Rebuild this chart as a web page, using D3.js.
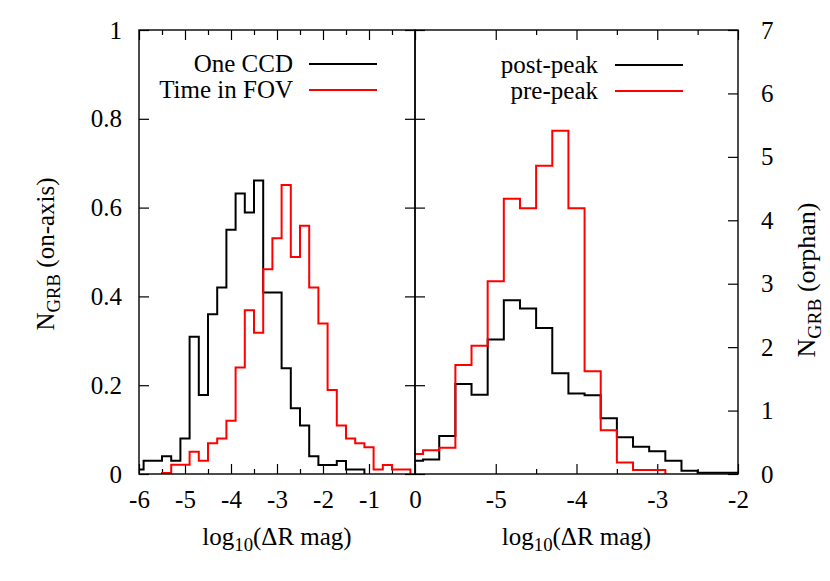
<!DOCTYPE html>
<html><head><meta charset="utf-8">
<script src="https://cdn.jsdelivr.net/npm/d3@7"></script>
<style>html,body{margin:0;padding:0;background:#fff;}</style>
</head><body>
<svg id="chart" width="830" height="581"></svg>
<script>
// ---------- data ----------
// Left panel (on-axis), bin centres in log10(ΔR mag), bin width 0.2
const oneCCDCenters = [-6.0,-5.8,-5.6,-5.4,-5.2,-5.0,-4.8,-4.6,-4.4,-4.2,-4.0,-3.8,-3.6,-3.4,-3.2,-3.0,-2.8,-2.6,-2.4,-2.2,-2.0,-1.8,-1.6,-1.4,-1.2];
const oneCCDValues  = [0.010,0.030,0.030,0.040,0.030,0.080,0.309,0.178,0.360,0.420,0.550,0.632,0.589,0.661,0.409,0.409,0.238,0.148,0.109,0.040,0.020,0.020,0.029,0.010,0.010];
const fovCenters = [-5.4,-5.2,-5.0,-4.8,-4.6,-4.4,-4.2,-4.0,-3.8,-3.6,-3.4,-3.2,-3.0,-2.8,-2.6,-2.4,-2.2,-2.0,-1.8,-1.6,-1.4,-1.2,-1.0,-0.8,-0.6,-0.4,-0.2];
const fovValues  = [0.002,0.021,0.021,0.050,0.030,0.069,0.080,0.120,0.240,0.369,0.318,0.461,0.531,0.651,0.489,0.559,0.420,0.339,0.189,0.109,0.080,0.069,0.060,0.010,0.020,0.010,0.010];
// Right panel (orphan)
const postCenters = [-6.0,-5.8,-5.6,-5.4,-5.2,-5.0,-4.8,-4.6,-4.4,-4.2,-4.0,-3.8,-3.6,-3.4,-3.2,-3.0,-2.8,-2.6,-2.4,-2.2,-2.0];
const postValues  = [0.21,0.23,0.60,1.42,1.25,2.12,2.74,2.61,2.30,1.59,1.27,1.24,0.88,0.58,0.43,0.36,0.21,0.05,0.02,0.02,0.02];
const preCenters = [-6.0,-5.8,-5.6,-5.4,-5.2,-5.0,-4.8,-4.6,-4.4,-4.2,-4.0,-3.8,-3.6,-3.4,-3.2,-3.0];
const preValues  = [0.315,0.375,0.415,1.72,2.02,3.04,4.34,4.19,4.86,5.41,4.19,1.62,0.69,0.18,0.063,0.063];
const binWidth = 0.2;

const leftXTicks = [-6,-5,-4,-3,-2,-1,0];
const leftXMinor = [-5.5,-4.5,-3.5,-2.5,-1.5,-0.5];
const rightXTicks = [-5,-4,-3,-2];
const rightXMinor = [-4.5,-3.5,-2.5];
const leftYTicks = [0,0.2,0.4,0.6,0.8,1];
const leftYLabels = ["0","0.2","0.4","0.6","0.8","1"];
const rightYTicks = [0,1,2,3,4,5,6,7];

const leftLegend = ["One CCD","Time in FOV"];
const rightLegend = ["post-peak","pre-peak"];
const colors = ["#000000","#ff0000"];

// ---------- layout ----------
const FONT = '"Liberation Serif","Times New Roman",Times,serif';
const FS = 25;
const yTop = 30, yBot = 474, xl0 = 139, xmid = 415, xr1 = 738;

const svg = d3.select("#chart");
const xL = d3.scaleLinear().domain([-6,0]).range([xl0,xmid]);
const xR = d3.scaleLinear().domain([-6,-2]).range([xmid,xr1]);
const yL = d3.scaleLinear().domain([0,1]).range([yBot,yTop]);
const yR = d3.scaleLinear().domain([0,7]).range([yBot,yTop]);

const defs = svg.append("defs");
defs.append("clipPath").attr("id","clipL").append("rect").attr("x",xl0).attr("y",yTop).attr("width",xmid-xl0).attr("height",yBot-yTop);
defs.append("clipPath").attr("id","clipR").append("rect").attr("x",xmid).attr("y",yTop).attr("width",xr1-xmid).attr("height",yBot-yTop);

function styleAxis(g){
  g.select(".domain").remove();
  g.selectAll("line").attr("stroke","#000").attr("stroke-width",1.2);
  g.attr("font-family",FONT).attr("font-size",FS);
  g.selectAll("text").attr("fill","#000");
}

function xAxes(x, major, minor){
  const gb = svg.append("g").attr("transform",`translate(0,${yBot})`)
    .call(d3.axisBottom(x).tickValues(major).tickSizeInner(-10).tickSizeOuter(0).tickFormat(d=>String(d)));
  styleAxis(gb);
  gb.selectAll("text").attr("y",34).attr("dy",0);
  const gbm = svg.append("g").attr("transform",`translate(0,${yBot})`)
    .call(d3.axisBottom(x).tickValues(minor).tickSizeInner(-5).tickSizeOuter(0).tickFormat(""));
  styleAxis(gbm);
  const gt = svg.append("g").attr("transform",`translate(0,${yTop})`)
    .call(d3.axisTop(x).tickValues(major).tickSizeInner(-10).tickSizeOuter(0).tickFormat(""));
  styleAxis(gt);
  const gtm = svg.append("g").attr("transform",`translate(0,${yTop})`)
    .call(d3.axisTop(x).tickValues(minor).tickSizeInner(-5).tickSizeOuter(0).tickFormat(""));
  styleAxis(gtm);
}
xAxes(xL, leftXTicks, leftXMinor);
xAxes(xR, rightXTicks, rightXMinor);

// left y axis (labels)
const gyl = svg.append("g").attr("transform",`translate(${xl0},0)`)
  .call(d3.axisLeft(yL).tickValues(leftYTicks).tickSizeInner(-10).tickSizeOuter(0).tickPadding(17).tickFormat((d,i)=>leftYLabels[i]));
styleAxis(gyl);
// left panel mirror ticks on shared border (pointing left)
const gym = svg.append("g").attr("transform",`translate(${xmid},0)`)
  .call(d3.axisRight(yL).tickValues(leftYTicks).tickSizeInner(-10).tickSizeOuter(0).tickFormat(""));
styleAxis(gym);
// right panel y1 ticks on shared border (pointing right)
const gyr1 = svg.append("g").attr("transform",`translate(${xmid},0)`)
  .call(d3.axisLeft(yL).tickValues(leftYTicks).tickSizeInner(-10).tickSizeOuter(0).tickFormat(""));
styleAxis(gyr1);
// right y2 axis
const gy2 = svg.append("g").attr("transform",`translate(${xr1},0)`)
  .call(d3.axisRight(yR).tickValues(rightYTicks).tickSizeInner(-10).tickSizeOuter(0).tickPadding(23).tickFormat(d=>String(d)));
styleAxis(gy2);

// ---------- histograms ----------
function stepPoints(centers, values){
  const pts = [[centers[0]-binWidth/2, 0]];
  centers.forEach((c,i)=>{ pts.push([c-binWidth/2, values[i]]); pts.push([c+binWidth/2, values[i]]); });
  pts.push([centers[centers.length-1]+binWidth/2, 0]);
  return pts;
}
function drawHist(x, y, clip, centers, values, color){
  const line = d3.line().x(d=>x(d[0])).y(d=>y(d[1]));
  svg.append("path").attr("clip-path",`url(#${clip})`)
    .attr("d", line(stepPoints(centers, values)))
    .attr("fill","none").attr("stroke",color).attr("stroke-width",2).attr("stroke-linejoin","miter");
}
drawHist(xL, yL, "clipL", oneCCDCenters, oneCCDValues, colors[0]);
drawHist(xL, yL, "clipL", fovCenters, fovValues, colors[1]);
drawHist(xR, yR, "clipR", postCenters, postValues, colors[0]);
drawHist(xR, yR, "clipR", preCenters, preValues, colors[1]);

// ---------- borders ----------
svg.append("rect").attr("x",xl0).attr("y",yTop).attr("width",xmid-xl0).attr("height",yBot-yTop)
  .attr("fill","none").attr("stroke","#000").attr("stroke-width",1.4);
svg.append("rect").attr("x",xmid).attr("y",yTop).attr("width",xr1-xmid).attr("height",yBot-yTop)
  .attr("fill","none").attr("stroke","#000").attr("stroke-width",1.4);

// ---------- legends ----------
function legend(labels, textX, lineX0, lineX1, ys){
  labels.forEach((t,i)=>{
    svg.append("text").attr("x",textX).attr("y",ys[i]+8).attr("text-anchor","end")
      .attr("font-family",FONT).attr("font-size",FS).attr("fill","#000").text(t);
    svg.append("line").attr("x1",lineX0).attr("x2",lineX1).attr("y1",ys[i]).attr("y2",ys[i])
      .attr("stroke",colors[i]).attr("stroke-width",2);
  });
}
legend(leftLegend, 293, 309, 377, [64,90]);
legend(rightLegend, 598, 615, 683, [65,91]);

// ---------- axis titles ----------
function xTitle(cx){
  const t = svg.append("text").attr("x",cx).attr("y",545).attr("text-anchor","middle")
    .attr("font-family",FONT).attr("font-size",FS).attr("fill","#000");
  t.append("tspan").text("log");
  t.append("tspan").attr("font-size",FS*0.75).attr("dy",6).text("10");
  t.append("tspan").attr("dy",-6).text("(ΔR mag)");
}
xTitle((xl0+xmid)/2);
xTitle((xmid+xr1)/2);

function yTitle(x, y, rest, fs){
  const t = svg.append("text").attr("transform",`translate(${x},${y}) rotate(-90)`).attr("text-anchor","middle")
    .attr("font-family",FONT).attr("font-size",fs).attr("fill","#000");
  t.append("tspan").text("N");
  t.append("tspan").attr("font-size",fs*0.75).attr("dy",fs*0.22).text("GRB");
  t.append("tspan").attr("dy",-fs*0.22).text(" " + rest);
}
yTitle(54, 254, "(on-axis)", FS);
yTitle(815, 280, "(orphan)", 26);
</script>
</body></html>
